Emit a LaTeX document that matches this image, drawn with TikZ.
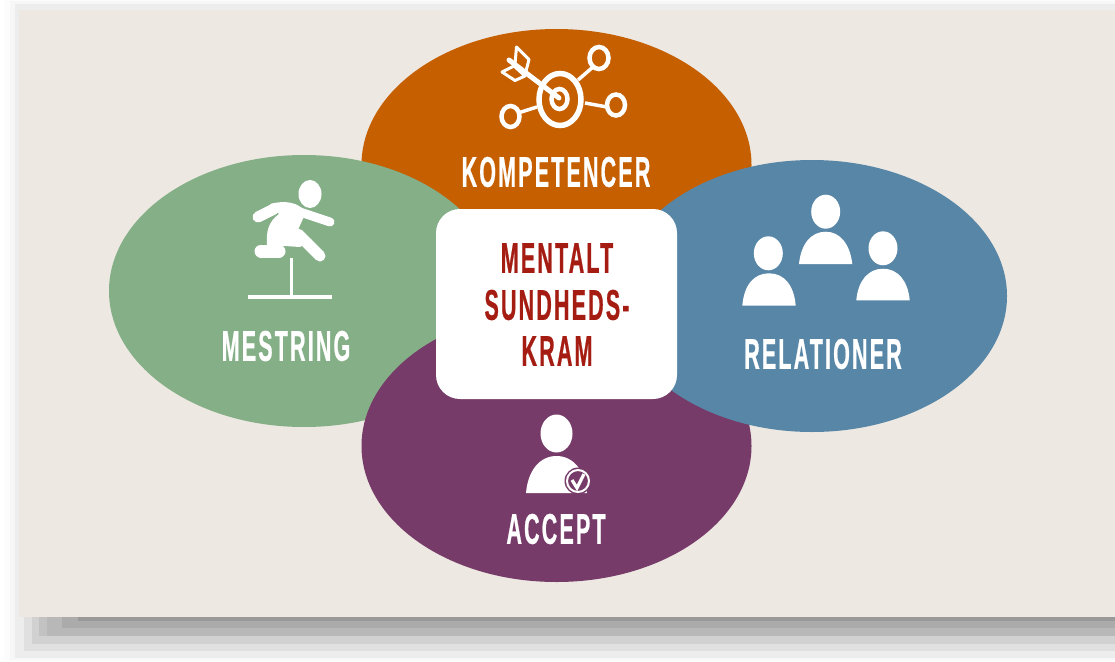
\documentclass[tikz,border=0pt]{standalone}
\usepackage{fontspec}
\usetikzlibrary{positioning, shapes.geometric}
\setmainfont[FakeStretch=0.5,LetterSpace=5,BoldFeatures={FakeBold=0.5}]{Liberation Sans}
\definecolor{panelbg}{HTML}{EDE8E2}
\definecolor{orangeoval}{HTML}{C55F00}
\definecolor{greenoval}{HTML}{84AF87}
\definecolor{purpleoval}{HTML}{763B69}
\definecolor{blueoval}{HTML}{5886A7}
\definecolor{kramred}{HTML}{A51C12}

\begin{document}
\begin{tikzpicture}
    [x=1pt, y=-1pt, node distance = 139pt,
      oval/.style = {ellipse, minimum width=390pt, minimum height=272pt, inner sep=0pt},
      ovaltext/.style = {text=white, font=\fontsize{43}{43}\selectfont\bfseries, inner sep=0pt},
      kramtext/.style = {text=kramred, font=\fontsize{43}{43}\selectfont\bfseries, inner sep=0pt},
      ikon/.style = {draw=white, line width=4.5pt},
      lem/.style = {draw=white, line width=11pt, line cap=round}]

    \useasboundingbox (0,0) rectangle (1115,661);

    % soft shadow
    \fill[black!1] (4,0) rectangle (1115,661);
    \fill[black!3] (10,1) rectangle (1115,660);
    \fill[black!7] (15,4) rectangle (1115,658);
    \fill[black!12] (24,617) rectangle (1115,651);
    \fill[black!18] (32,617) rectangle (1115,644);
    \fill[black!24] (39,617) rectangle (1115,636);
    \fill[black!28] (47,617) rectangle (1115,636);
    \fill[black!33] (62,617) rectangle (1115,628);
    \fill[black!40] (78,617) rectangle (1115,621);

    \node (panel) [fill=panelbg, inner sep=0pt, minimum width=1096pt, minimum height=607pt, anchor=north west] at (19,10) {};
    \coordinate (midt) at (556.5,304);

    \node (kompetencer) [oval, fill=orangeoval, above =of midt, anchor=center] {};
    \node (mestring) [oval, fill=greenoval, above left =13pt and 252.5pt of midt, anchor=center] {};
    \node (accept) [oval, fill=purpleoval, below =142pt of midt, anchor=center] {};
    \node (relationer) [oval, fill=blueoval, below right =-8pt and 255.5pt of midt, anchor=center] {};
    \node (kram) [fill=white, rounded corners=24pt, minimum width=241pt, minimum height=190pt, inner sep=0pt] at (midt) {};

    \node (kompetencerlabel) [ovaltext] at (556,172) {KOMPETENCER};
    \node (mestringlabel) [ovaltext] at (286,346) {MESTRING};
    \node (acceptlabel) [ovaltext] at (556,529) {ACCEPT};
    \node (relationerlabel) [ovaltext] at (823,354) {RELATIONER};
    \node (kram1) [kramtext] at (557,258) {MENTALT};
    \node (kram2) [kramtext] at (557,305) {SUNDHEDS-};
    \node (kram3) [kramtext] at (557,351) {KRAM};

    % target
    \draw[ikon, line width=5.5pt] (560,99.5) ellipse [x radius=21, y radius=26];
    \draw[ikon] (559.5,99) ellipse [x radius=8, y radius=10];
    \draw[ikon] (599,58) ellipse [x radius=9.5, y radius=11];
    \draw[ikon] (616,105) ellipse [x radius=9, y radius=10.5];
    \draw[ikon] (510.5,116.5) ellipse [x radius=9, y radius=10.5];
    \draw[ikon, line width=3.5pt] (578,80) -- (593,67);
    \draw[ikon, line width=3.5pt] (585,103) -- (607,107);
    \draw[ikon, line width=3.5pt] (518,113) -- (537,107);
    \draw[ikon, line width=5pt, line cap=round] (509,60) -- (559,98);
    \draw[ikon, line width=3pt, line join=round] (516.5,47) -- (529,59.5) -- (525,75) -- (515,64) -- cycle;
    \draw[ikon, line width=3pt, line join=round] (502,72) -- (515,80.5) -- (525,76) -- (514,66) -- cycle;

    % hurdler
    \fill[white] (310,194) ellipse [x radius=11.5, y radius=14];
    \draw[ikon, line width=4pt] (248,297) -- (332,297);
    \draw[ikon, line width=3.5pt] (291.5,258) -- (291.5,297);
    \fill[white] (270,204) .. controls (285,200) and (298,202) .. (306,212)
      -- (297,232) -- (312,240) -- (300,247) -- (285,246) -- (267,246)
      .. controls (266,232) and (268,222) .. (279,214) -- cycle;
    \draw[lem, line width=11pt] (258,217) -- (274,209);
    \draw[lem, line width=9pt] (300,212) -- (330,222);
    \draw[lem] (298,234) -- (320,256);
    \draw[lem, line width=13pt] (261,251) -- (279,251);

    % person with tick
    \fill[white] (556.5,433.5) ellipse [x radius=16, y radius=19];
    \fill[white] (526,493) .. controls (528,470) and (540,456) .. (556.5,456)
      .. controls (573,456) and (585,470) .. (587,493) -- cycle;
    \fill[purpleoval] (578,481) circle [radius=13.5];
    \draw[white, line width=2pt] (578,481) circle [radius=11];
    \draw[white, line width=3.2pt] (572,480) -- (577,488) -- (584,474);

    % three people
    \fill[white] (825.7,211.7) ellipse [x radius=14.5, y radius=17];
    \fill[white] (799,264) .. controls (801,244) and (811,231.7) .. (825.7,231.7)
      .. controls (840,231.7) and (850,244) .. (852.3,264) -- cycle;
    \fill[white] (768.3,253.3) ellipse [x radius=14.5, y radius=17];
    \fill[white] (742.3,305.7) .. controls (744,285) and (754,273.3) .. (769,273.3)
      .. controls (784,273.3) and (794,285) .. (795.7,305.7) -- cycle;
    \fill[white] (883,248.3) ellipse [x radius=14.5, y radius=17];
    \fill[white] (856.3,300.3) .. controls (858,281) and (868,268.7) .. (883,268.7)
      .. controls (898,268.7) and (908,281) .. (909.7,300.3) -- cycle;
  \end{tikzpicture}
\end{document}
